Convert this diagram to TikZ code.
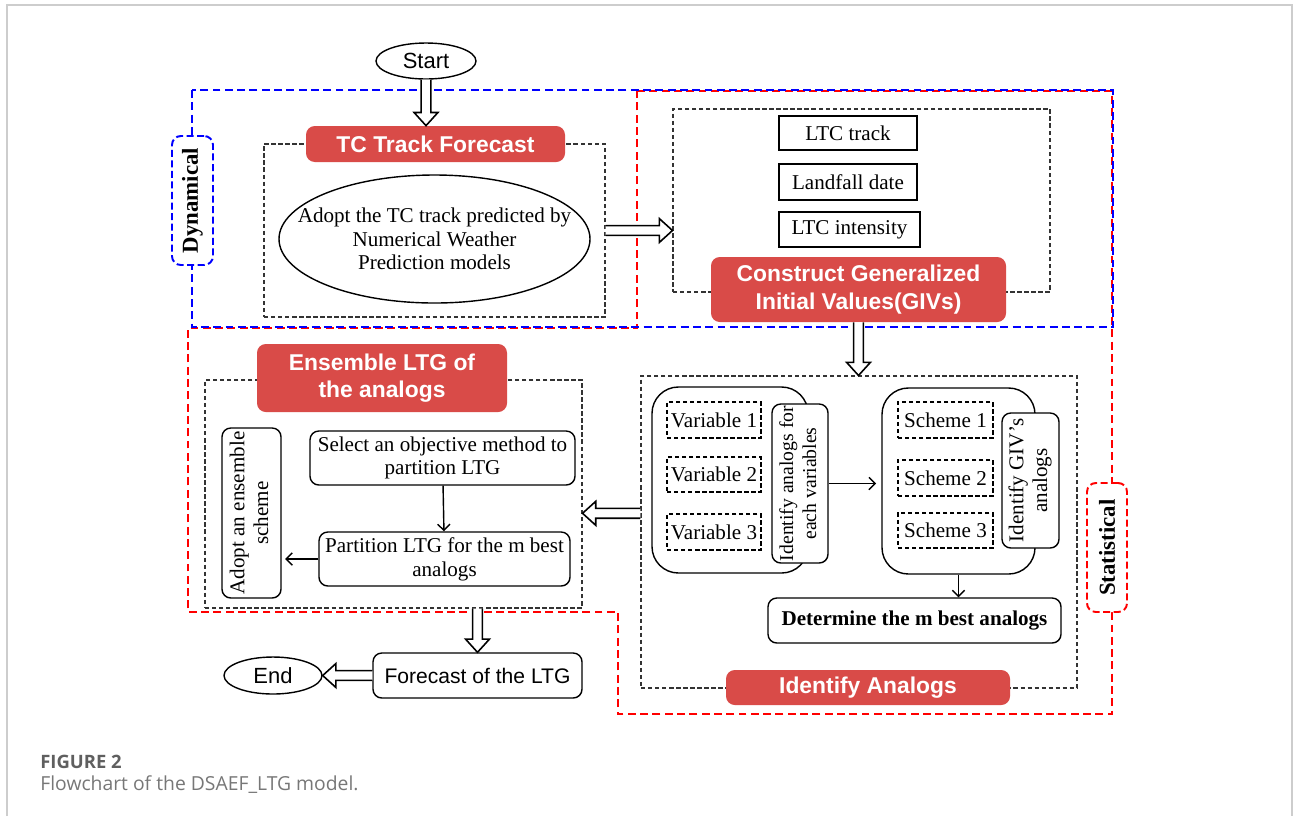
\documentclass[tikz,border=0pt]{standalone}
\usepackage{fontspec}
\setmainfont{Liberation Serif}
\setsansfont{Liberation Sans}
\newfontfamily\capfont{Open Sans}
\usetikzlibrary{shapes.geometric,arrows.meta,calc}

\definecolor{titlered}{RGB}{217,75,72}
\definecolor{framegray}{RGB}{205,205,205}
\definecolor{capgray}{RGB}{95,95,95}

% one pixel of the layout
\newcommand\pu{0.02cm}

\tikzset{
  termin/.style={ellipse, draw, line width=0.8pt, inner sep=0pt,
      font=\sffamily\fontsize{12.5}{15}\selectfont},
  grpbox/.style={draw=black!80, dash pattern=on 2.5pt off 1.5pt,
      line width=0.6pt, inner sep=0pt},
  redtitle/.style={fill=titlered, rounded corners=5pt, text=white,
      align=center, inner sep=0pt,
      font=\sffamily\bfseries\fontsize{13}{15.5}\selectfont},
  plaintext/.style={inner sep=0pt, align=center,
      font=\fontsize{12}{13.5}\selectfont},
  plainbox/.style={plaintext, draw, line width=0.8pt},
  roundbox/.style={plainbox, rounded corners=5pt},
  bigbox/.style={draw, line width=0.8pt, rounded corners=15pt, inner sep=0pt},
  dashbox/.style={plainbox, dash pattern=on 2.5pt off 1.5pt},
  bluetag/.style={draw=blue, fill=white, line width=1.1pt,
      dash pattern=on 4pt off 2pt, rounded corners=5pt, inner sep=0pt,
      font=\bfseries\fontsize{13}{15}\selectfont},
  redtag/.style={bluetag, draw=red},
  bluereg/.style={draw=blue, line width=1.1pt, dash pattern=on 4.5pt off 2.5pt},
  redreg/.style={draw=red, line width=1.1pt, dash pattern=on 4.5pt off 2.5pt},
  thinarrow/.style={line width=0.8pt, -{Straight Barb[length=3.5pt,width=7pt]}},
  hollow/.style={draw, fill=white, line width=0.9pt, line join=miter}
}

% outlined block arrow from #1 to #2
\newcommand\hollowarrow[2]{%
  \coordinate (hb) at ($(#2)!7.5pt!(#1)$);
  \draw[hollow] ($(#1)!2.8pt!90:(#2)$) -- ($(hb)!2.8pt!90:(#2)$)
    -- ($(hb)!6.8pt!90:(#2)$) -- (#2) -- ($(hb)!6.8pt!-90:(#2)$)
    -- ($(hb)!2.8pt!-90:(#2)$) -- ($(#1)!2.8pt!-90:(#2)$);
}

\begin{document}
\begin{tikzpicture}[x=0.02cm, y=-0.02cm]
\useasboundingbox (0,0) rectangle (1293,816);

% page frame
\draw[framegray, line width=0.6pt] (7,816) -- (7,5) -- (1292,5) -- (1292,816);

% statistical and dynamical parts
\draw[redreg] (637,91) -- (1112,91) -- (1112,714) -- (618,714) -- (618,612)
  -- (188,612) -- (188,328) -- (637,328) -- cycle;
\draw[bluereg] (192,90) rectangle (1113,327);

\node[bluetag,
    minimum width = 41*\pu,
    minimum height = 129*\pu] (dyntag) at (192.5,200.5) {\rotatebox{90}{Dynamical}};
\node[redtag,
    minimum width = 40*\pu,
    minimum height = 129*\pu] (stattag) at (1107,547.5) {\rotatebox{90}{Statistical}};

% start
\node[termin,
    minimum width = 100*\pu,
    minimum height = 36*\pu] (start) at (426,61) {Start};

% TC track forecast
\node[grpbox,
    minimum width = 341*\pu,
    minimum height = 173*\pu] (tcgrp) at (434.5,230.5) {};
\node[redtitle,
    minimum width = 259*\pu,
    minimum height = 36*\pu] (tctitle) at (435.5,144) {TC Track Forecast};
\node[ellipse, draw, line width=0.8pt,
    minimum width = 311*\pu,
    minimum height = 128*\pu] (tcell) at (434.5,239) {};
\node[plaintext] (tctext) at (tcell.center)
    {Adopt the TC track predicted by\\Numerical Weather\\Prediction models};

% generalized initial values
\node[grpbox,
    minimum width = 377*\pu,
    minimum height = 183*\pu] (givgrp) at (861.5,200.5) {};
\node[plainbox,
    minimum width = 138*\pu,
    minimum height = 34*\pu] (ltctrack) at (848,133) {LTC track};
\node[plainbox,
    minimum width = 138*\pu,
    minimum height = 36*\pu] (landfall) at (848,182) {Landfall date};
\node[plainbox,
    minimum width = 141*\pu,
    minimum height = 35*\pu] (ltcint) at (849.5,229.5) {LTC intensity};
\node[redtitle,
    minimum width = 295*\pu,
    minimum height = 65*\pu] (givtitle) at (858.5,289.5)
    {Construct Generalized\\Initial Values(GIVs)};

% identify analogs
\node[grpbox,
    minimum width = 436*\pu,
    minimum height = 312*\pu] (idgrp) at (859,532) {};
\node[redtitle,
    minimum width = 284*\pu,
    minimum height = 35*\pu] (idtitle) at (868,687.5) {Identify Analogs};

\node[bigbox,
    minimum width = 156*\pu,
    minimum height = 186*\pu] (varbig) at (730,480) {};
\node[dashbox,
    minimum width = 94*\pu,
    minimum height = 36*\pu] (var1) at (714,420) {Variable 1};
\node[dashbox,
    minimum width = 94*\pu,
    minimum height = 35*\pu] (var2) at (714,474.5) {Variable 2};
\node[dashbox,
    minimum width = 94*\pu,
    minimum height = 36*\pu] (var3) at (714,532) {Variable 3};
\node[roundbox, fill=white, font=\fontsize{11.2}{13}\selectfont,
    minimum width = 56*\pu,
    minimum height = 159*\pu] (idvar) at (800,483.5)
    {\rotatebox{90}{\begin{tabular}{@{}c@{}}Identify analogs for\\each variables\end{tabular}}};

\node[bigbox,
    minimum width = 153*\pu,
    minimum height = 186*\pu] (schbig) at (958.5,481) {};
\node[dashbox,
    minimum width = 95*\pu,
    minimum height = 36*\pu] (sch1) at (945.5,420) {Scheme 1};
\node[dashbox,
    minimum width = 95*\pu,
    minimum height = 36*\pu] (sch2) at (945.5,478) {Scheme 2};
\node[dashbox,
    minimum width = 95*\pu,
    minimum height = 35*\pu] (sch3) at (945.5,530.5) {Scheme 3};
\node[roundbox, fill=white,
    minimum width = 57*\pu,
    minimum height = 135*\pu] (idgiv) at (1030.5,480.5)
    {\rotatebox{90}{\begin{tabular}{@{}c@{}}Identify GIV’s\\analogs\end{tabular}}};

\node[roundbox, font=\bfseries\fontsize{12}{14}\selectfont,
    minimum width = 293*\pu,
    minimum height = 45*\pu] (best) at (914.5,620.5) {Determine the m best analogs};

\draw[thinarrow, shorten >=3pt] (idvar.east) -- (idvar.east -| schbig.west);
\draw[thinarrow] (schbig.south) -- (schbig.south |- best.north);

% ensemble of the analogs
\node[grpbox,
    minimum width = 377*\pu,
    minimum height = 228*\pu] (ensgrp) at (393.5,494) {};
\node[redtitle,
    minimum width = 250*\pu,
    minimum height = 68*\pu] (enstitle) at (382,378) {Ensemble LTG of\\the analogs};
\node[roundbox,
    minimum width = 59*\pu,
    minimum height = 170*\pu] (adopt) at (251.5,513)
    {\rotatebox{90}{\begin{tabular}{@{}c@{}}Adopt an ensemble\\scheme\end{tabular}}};
\node[roundbox,
    minimum width = 265*\pu,
    minimum height = 54*\pu] (select) at (442.5,458)
    {Select an objective method to\\partition LTG};
\node[roundbox,
    minimum width = 251*\pu,
    minimum height = 54*\pu] (partition) at (444.5,559)
    {Partition LTG for the m best\\analogs};

\draw[thinarrow] (select) -- (partition);
\draw[thinarrow, shorten >=2pt] (partition.west) -- (partition.west -| adopt.east);

% forecast and end
\node[roundbox, font=\sffamily\fontsize{12}{14}\selectfont,
    minimum width = 209*\pu,
    minimum height = 45*\pu] (forecast) at (477.5,675.5) {Forecast of the LTG};
\node[termin,
    minimum width = 98*\pu,
    minimum height = 37*\pu] (endnode) at (273,675.5) {End};

% block arrows
\coordinate (tcin) at (start.south |- tctitle.north);
\coordinate (givin) at (givgrp.west |- tcgrp.east);
\coordinate (idin) at (givtitle.south |- idgrp.north);
\coordinate (idout) at (idgrp.west |- var3.north);
\coordinate (ensin) at (ensgrp.east |- var3.north);
\coordinate (ensout) at (forecast.north |- ensgrp.south);

\hollowarrow{start.south}{tcin}
\hollowarrow{tcgrp.east}{givin}
\hollowarrow{givtitle.south}{idin}
\hollowarrow{idout}{ensin}
\hollowarrow{ensout}{forecast.north}
\hollowarrow{forecast.west}{endnode.east}

% caption
\node[anchor=base west, inner sep=0pt, text=capgray,
    font=\capfont\bfseries\fontsize{10.5}{13}\selectfont] (figlabel) at (40,768) {FIGURE 2};
\node[anchor=base west, inner sep=0pt, text=capgray!85,
    font=\capfont\fontsize{11}{13}\selectfont] (figcaption) at (40,790)
    {Flowchart of the DSAEF\_LTG model.};
\end{tikzpicture}
\end{document}
